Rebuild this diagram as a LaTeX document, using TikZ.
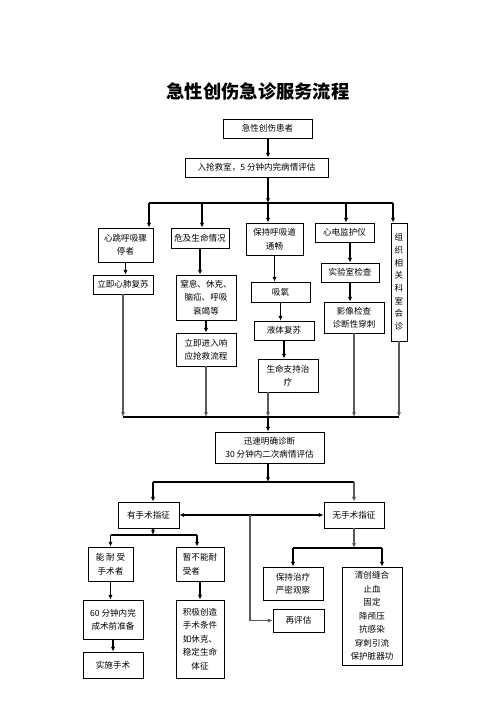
\documentclass[tikz,border=0pt]{standalone}
\usepackage{fontspec}
\setmainfont{Noto Sans CJK SC}
\usetikzlibrary{arrows.meta,fit}
\tikzset{
  box/.style={draw, line width=0.7pt, inner sep=0pt},
  txt/.style={align=center, inner sep=0pt, font=\fontsize{7.3}{11.5}\selectfont},
  arr/.style={-{Latex[length=4pt,width=3.6pt]}, line width=1pt},
  link/.style={line width=1pt},
  drop/.style={line width=1.2pt, draw=black!65},
}
\begin{document}
\begin{tikzpicture}[x=0.03cm,y=-0.03cm]
\useasboundingbox (0,0) rectangle (496,702);
\node (title) at (258,92) {\fontsize{15.6}{18}\selectfont\bfseries 急性创伤急诊服务流程};
% top part
\node[box, fit={(223,119) (312,138)}, label={[txt]center:急性创伤患者}] (pat) {};
\node[box, fit={(185,158) (328,177)}, label={[txt]center:入抢救室，5 分钟内完病情评估}] (room) {};
\coordinate (sp1) at (268,203);
\coordinate (b1) at (149,203);
\coordinate (b2) at (202,203);
\coordinate (b4) at (346,203);
\coordinate (b5) at (393,203);
% first row
\node[box, fit={(98,228) (153,262)}, label={[txt]center:{心跳呼吸骤\\停者}}] (heart) {};
\node[box, fit={(171,228) (229,248)}, label={[txt]center:危及生命情况}] (danger) {};
\node[box, fit={(246,223) (303,255)}, label={[txt]center:{保持呼吸道\\通畅}}] (airway) {};
\node[box, fit={(315,223) (374,242)}, label={[txt]center:心电监护仪}] (ecg) {};
\node[box, fit={(391,223) (407,341)}, label={[txt, font=\fontsize{7.3}{10.8}\selectfont]center:{组\\织\\相\\关\\科\\室\\会\\诊}}] (consult) {};
% second row
\node[box, fit={(93,275) (153,294)}, label={[txt]center:立即心肺复苏}] (cpr) {};
\node[box, fit={(176,275) (236,320)}, label={[txt]center:{窒息、休克、\\脑疝、呼吸\\衰竭等}}] (cond) {};
\node[box, fit={(251,282) (310,302)}, label={[txt]center:吸氧}] (oxy) {};
\node[box, fit={(321,263) (379,282)}, label={[txt]center:实验室检查}] (lab) {};
\node[box, fit={(324,302) (384,333)}, label={[txt]center:{影像检查\\诊断性穿刺}}] (image) {};
% third row
\node[box, fit={(176,333) (236,366)}, label={[txt]center:{立即进入响\\应抢救流程}}] (resp) {};
\node[box, fit={(254,321) (314,340)}, label={[txt]center:液体复苏}] (fluid) {};
\node[box, fit={(258,359) (318,392)}, label={[txt]center:{生命支持治\\疗}}] (life) {};
\coordinate (sp2) at (268,417);
% diagnosis
\node[box, fit={(215,432) (324,463)}, label={[txt]center:{迅速明确诊断\\30 分钟内二次病情评估}}] (diag) {};
\coordinate (sp3) at (268,482);
\coordinate (y1) at (153,482);
\node[box, fit={(118,502) (179,528)}, label={[txt]center:有手术指征}] (yes) {};
\node[box, fit={(324,502) (384,528)}, label={[txt]center:无手术指征}] (no) {};
\coordinate (m) at (250,515);
\node[box, fit={(273,609) (324,632)}, label={[txt]center:再评估}] (re) {};
% surgery side
\coordinate (s1) at (153,535);
\coordinate (s2) at (197,535);
\node[box, fit={(88,547) (133,581)}, label={[txt]center:{能 耐 受\\手术者}}] (able) {};
\node[box, fit={(176,547) (224,581)}, label={[txt, align=left]center:{暂不能耐\\受者}}] (notable) {};
\node[box, fit={(83,600) (143,639)}, label={[txt]center:{60 分钟内完\\成术前准备}}] (prep) {};
\node[box, fit={(176,600) (224,678)}, label={[txt]center:{积极创造\\手术条件\\如休克、\\稳定生命\\体征}}] (create) {};
\node[box, fit={(83,652) (143,678)}, label={[txt]center:实施手术}] (op) {};
% no surgery side
\coordinate (r1) at (354,548);
\coordinate (r2) at (382,548);
\node[box, fit={(263,567) (323,600)}, label={[txt]center:{保持治疗\\严密观察}}] (keep) {};
\node[box, fit={(342,567) (402,665)}, label={[txt]center:{清创缝合\\止血\\固定\\降颅压\\抗感染\\穿刺引流\\保护脏器功}}] (treat) {};

% connectors
\draw[arr] (pat.south -| sp1) -- (room.north -| sp1);
\draw[arr] (room.south -| sp1) -- (sp1);
\draw[link] (b1) -- (b5);
\draw[arr] (b1) -- (b1 |- heart.north);
\draw[arr] (b2) -- (b2 |- danger.north);
\draw[arr] (sp1) -- (sp1 |- airway.north);
\draw[arr] (b4) -- (b4 |- ecg.north);
\draw[arr] (b5) -- (b5 |- consult.north);
\draw[arr] (heart.south) -- (heart.south |- cpr.north);
\draw[arr] (danger.south) -- (danger.south |- cond.north);
\draw[arr] (airway.south) -- (airway.south |- oxy.north);
\draw[arr] (ecg.south -| lab) -- (lab.north);
\draw[arr] (lab.south) -- (lab.south |- image.north);
\draw[arr] (cond.south) -- (resp.north);
\draw[arr] (oxy.south) -- (oxy.south |- fluid.north);
\draw[arr] (fluid.south) -- (fluid.south |- life.north);
\draw[arr, drop] (cpr.south) -- (cpr.south |- sp2);
\draw[arr, drop] (resp.south) -- (resp.south |- sp2);
\draw[arr, drop] (life.south -| sp2) -- (sp2);
\draw[arr, drop] (image.south) -- (image.south |- sp2);
\draw[arr, drop] (consult.south) -- (consult.south |- sp2);
\draw[link] (cpr.south |- sp2) -- (consult.south |- sp2);
\draw[arr] (sp2) -- (diag.north -| sp2);
\draw[arr] (diag.south -| sp3) -- (sp3);
\draw[link] (y1) -- (no.north |- sp3);
\draw[arr] (y1) -- (y1 |- yes.north);
\draw[arr, drop] (no.north |- sp3) -- (no.north);
\draw[{Latex[length=4pt,width=3.6pt]}-{Latex[length=4pt,width=3.6pt]}, line width=1pt] (yes.east) -- (no.west);
\draw[arr, drop] (m) |- (re.west);
\draw[arr] (yes.south -| s1) -- (s1);
\draw[link] (able.north |- s1) -- (s2);
\draw[arr] (able.north |- s1) -- (able.north);
\draw[arr] (s2) -- (s2 |- notable.north);
\draw[arr] (able.south) -- (able.south |- prep.north);
\draw[arr] (notable.south) -- (create.north);
\draw[arr] (prep.south) -- (op.north);
\draw[arr, drop] (no.south) -- (r1);
\draw[link] (keep.north |- r1) -- (r2);
\draw[arr] (keep.north |- r1) -- (keep.north);
\draw[arr] (r2) -- (r2 |- treat.north);
\end{tikzpicture}
\end{document}
